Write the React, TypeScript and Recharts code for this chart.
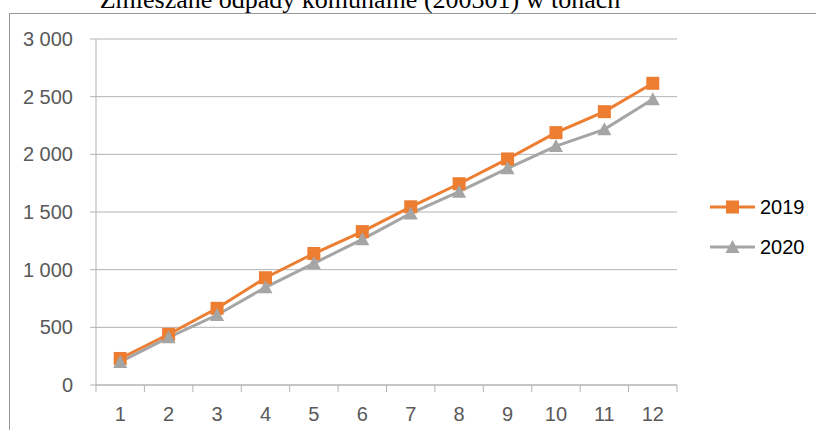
import { LineChart, Line, XAxis, YAxis, CartesianGrid } from 'recharts';

const months = [1, 2, 3, 4, 5, 6, 7, 8, 9, 10, 11, 12];
const values2019 = [230, 440, 665, 930, 1140, 1330, 1545, 1745, 1960, 2188, 2370, 2616];
const values2020 = [200, 413, 607, 847, 1055, 1263, 1488, 1676, 1879, 2072, 2217, 2477];
const seriesNames = ['2019', '2020'];
const yTicks = [0, 500, 1000, 1500, 2000, 2500, 3000];
const xTicks = [0.5, ...months.flatMap((m) => [m, m + 0.5])];

const ORANGE = '#ED7D31';
const GRAY = '#A5A5A5';
const AXIS = '#B3B3B3';
const LABEL = '#595959';
const FONT = '"Liberation Sans", Arial, sans-serif';

const data = months.map((m, i) => ({ month: m, y2019: values2019[i], y2020: values2020[i] }));

function formatThousands(v: number) {
  return String(v).replace(/\B(?=(\d{3})+(?!\d))/g, ' ');
}

function SquareDot(props: any) {
  const { cx, cy } = props;
  if (cx == null || cy == null) return null;
  return <rect x={cx - 6.5} y={cy - 6.5} width={13} height={13} fill={ORANGE} />;
}

function TriangleDot(props: any) {
  const { cx, cy } = props;
  if (cx == null || cy == null) return null;
  return <polygon points={`${cx},${cy - 7} ${cx + 7},${cy + 6} ${cx - 7},${cy + 6}`} fill={GRAY} />;
}

function XTick(props: any) {
  const { x, y, payload } = props;
  const v = payload.value;
  if (Number.isInteger(v)) {
    return (
      <text x={x} y={y + 36} textAnchor="middle" fill={LABEL} fontSize={20} fontFamily={FONT}>
        {v}
      </text>
    );
  }
  return <line x1={x} y1={y} x2={x} y2={y + 7} stroke={AXIS} strokeWidth={1} />;
}

function ChartLegend() {
  const colors = [ORANGE, GRAY];
  return (
    <svg style={{ position: 'absolute', left: 710, top: 193 }} width={100} height={80}>
      {seriesNames.map((name, i) => {
        const cy = 14 + i * 40;
        const color = colors[i];
        return (
          <g key={name}>
            <line x1={0} y1={cy} x2={45} y2={cy} stroke={color} strokeWidth={3} />
            {i === 0 ? (
              <rect x={16} y={cy - 6.5} width={13} height={13} fill={color} />
            ) : (
              <polygon points={`22.5,${cy - 7} 29.5,${cy + 6} 15.5,${cy + 6}`} fill={color} />
            )}
            <text x={50} y={cy + 7} fill="#000" fontSize={20} fontFamily={FONT}>
              {name}
            </text>
          </g>
        );
      })}
    </svg>
  );
}

export default function App() {
  return (
    <div style={{ position: 'absolute', left: 0, top: 0, width: 816, height: 430, background: '#fff', overflow: 'hidden' }}>
      <div style={{ position: 'absolute', left: 9, top: 13, width: 830, height: 440, borderLeft: '1px solid #999', borderTop: '1px solid #999' }} />
      <svg style={{ position: 'absolute', left: 0, top: 0 }} width={816} height={20}>
        <text x={360} y={8} textAnchor="middle" fontFamily='"Liberation Serif", "Times New Roman", serif' fontSize={26} fill="#000">
          Zmieszane odpady komunalne (200301) w tonach
        </text>
      </svg>
      <div style={{ position: 'absolute', left: 0, top: 0 }}>
        <LineChart width={816} height={430} data={data} margin={{ top: 39, right: 139, bottom: 0, left: 0 }}>
          <CartesianGrid vertical={false} stroke={AXIS} strokeWidth={1} />
          <XAxis
            dataKey="month"
            type="number"
            domain={[0.5, 12.5]}
            ticks={xTicks}
            interval={0}
            height={45}
            tickSize={0}
            tickMargin={0}
            tickLine={false}
            axisLine={{ stroke: AXIS }}
            tick={<XTick />}
          />
          <YAxis
            domain={[0, 3000]}
            ticks={yTicks}
            width={96}
            tickFormatter={formatThousands}
            tickSize={6}
            tickMargin={17}
            tickLine={{ stroke: AXIS }}
            axisLine={{ stroke: AXIS }}
            tick={{ fill: LABEL, fontSize: 20, fontFamily: FONT }}
          />
          <Line
            type="linear"
            dataKey="y2019"
            name={seriesNames[0]}
            stroke={ORANGE}
            strokeWidth={3}
            dot={<SquareDot />}
            activeDot={false}
            isAnimationActive={false}
          />
          <Line
            type="linear"
            dataKey="y2020"
            name={seriesNames[1]}
            stroke={GRAY}
            strokeWidth={3}
            dot={<TriangleDot />}
            activeDot={false}
            isAnimationActive={false}
          />
        </LineChart>
      </div>
      <ChartLegend />
    </div>
  );
}
